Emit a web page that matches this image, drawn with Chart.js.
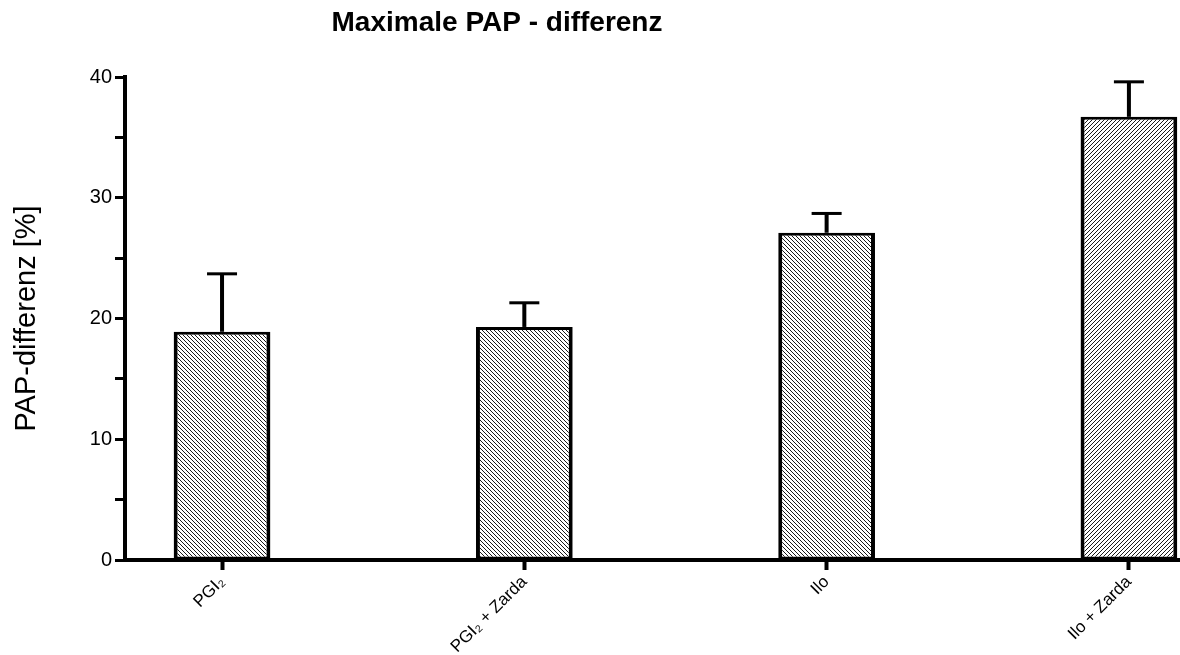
<!DOCTYPE html>
<html>
<head>
<meta charset="utf-8">
<script src="https://cdn.jsdelivr.net/npm/chart.js@4/dist/chart.umd.min.js"></script>
<style>
  body { margin: 0; background: #fff; }
  canvas { display: block; }
</style>
</head>
<body>
<canvas id="papChart" width="1180" height="655"></canvas>
<script>
const chartTitle = 'Maximale PAP - differenz';
const yAxisTitle = 'PAP-differenz [%]';
const categories = ['PGI₂', 'PGI₂ + Zarda', 'Ilo', 'Ilo + Zarda'];
const meanValues = [18.9, 19.3, 27.1, 36.7];
const semValues = [4.8, 2.0, 1.6, 2.9];
const yTickValues = [0, 5, 10, 15, 20, 25, 30, 35, 40];
const yTickLabels = ['0', '', '10', '', '20', '', '30', '', '40'];

const FONT = '"Liberation Sans", Arial, sans-serif';
const ctx = document.getElementById('papChart').getContext('2d');

// diagonal hatch fill, dir 1 = "/", dir -1 = "\"
function hatch(dir) {
    const c = document.createElement('canvas');
    c.width = c.height = 4;
    const g = c.getContext('2d');
    g.fillStyle = '#fff';
    g.fillRect(0, 0, 4, 4);
    g.strokeStyle = '#1a1a1a';
    g.lineWidth = 1;
    g.beginPath();
    if (dir > 0) {
        g.moveTo(0, 4); g.lineTo(4, 0);
        g.moveTo(-1, 1); g.lineTo(1, -1);
        g.moveTo(3, 5); g.lineTo(5, 3);
    } else {
        g.moveTo(0, 0); g.lineTo(4, 4);
        g.moveTo(-1, 3); g.lineTo(1, 5);
        g.moveTo(3, -1); g.lineTo(5, 1);
    }
    g.stroke();
    return ctx.createPattern(c, 'repeat');
}

const errorBars = {
    id: 'errorBars',
    afterDatasetsDraw(chart) {
        const x = chart.scales.x, y = chart.scales.y;
        const c = chart.ctx;
        c.save();
        c.fillStyle = '#000';
        meanValues.forEach((v, i) => {
            const px = x.getPixelForValue(i);
            const top = y.getPixelForValue(v + semValues[i]);
            const base = y.getPixelForValue(v);
            c.fillRect(px - 2, top, 4, base - top);
            c.fillRect(px - 15, top - 1.5, 30, 3);
        });
        c.restore();
    }
};

const titlePlugin = {
    id: 'plainTitle',
    afterDraw(chart) {
        const c = chart.ctx;
        c.save();
        c.fillStyle = '#000';
        c.font = 'bold 28px ' + FONT;
        c.textAlign = 'center';
        c.textBaseline = 'middle';
        c.fillText(chartTitle, 497, 23);
        c.restore();
    }
};

new Chart(ctx, {
    type: 'bar',
    data: {
        datasets: [{
            data: meanValues.map((v, i) => ({ x: i, y: v })),
            backgroundColor: [hatch(-1), hatch(-1), hatch(-1), hatch(1)],
            borderColor: '#000',
            borderWidth: { left: 4, right: 4, top: 3, bottom: 3 },
            borderSkipped: false,
            barPercentage: 0.32,
            categoryPercentage: 1,
        }],
    },
    options: {
        responsive: false,
        animation: false,
        layout: { padding: { top: 77, right: 0, left: 0, bottom: 0 } },
        plugins: {
            legend: { display: false },
            tooltip: { enabled: false },
            title: { display: false },
        },
        scales: {
            x: {
                type: 'linear',
                offset: false,
                min: -0.321,
                max: 3.169,
                afterBuildTicks: axis => { axis.ticks = categories.map((c, i) => ({ value: i })); },
                afterFit: axis => { axis.height = 95; },
                border: { display: true, color: '#000', width: 4 },
                grid: { offset: false, drawOnChartArea: false, drawTicks: true, tickLength: 10, tickWidth: 4, color: '#000' },
                ticks: {
                    autoSkip: false,
                    minRotation: 45,
                    maxRotation: 45,
                    padding: 2,
                    color: '#000',
                    font: { family: FONT, size: 17 },
                    callback: value => categories[value],
                },
            },
            y: {
                min: 0,
                max: 40,
                afterBuildTicks: axis => { axis.ticks = yTickValues.map(v => ({ value: v })); },
                afterFit: axis => { axis.width = 125; },
                border: { display: true, color: '#000', width: 4 },
                grid: { drawOnChartArea: false, drawTicks: true, tickLength: 10, tickWidth: 3, color: '#000' },
                ticks: {
                    padding: 3,
                    color: '#000',
                    font: { family: FONT, size: 20 },
                    callback: (value, index) => yTickLabels[index],
                },
                title: {
                    display: true,
                    text: yAxisTitle,
                    color: '#000',
                    font: { family: FONT, size: 29 },
                    padding: { top: 10, bottom: 8 },
                },
            },
        },
    },
    plugins: [errorBars, titlePlugin],
});
</script>
</body>
</html>
